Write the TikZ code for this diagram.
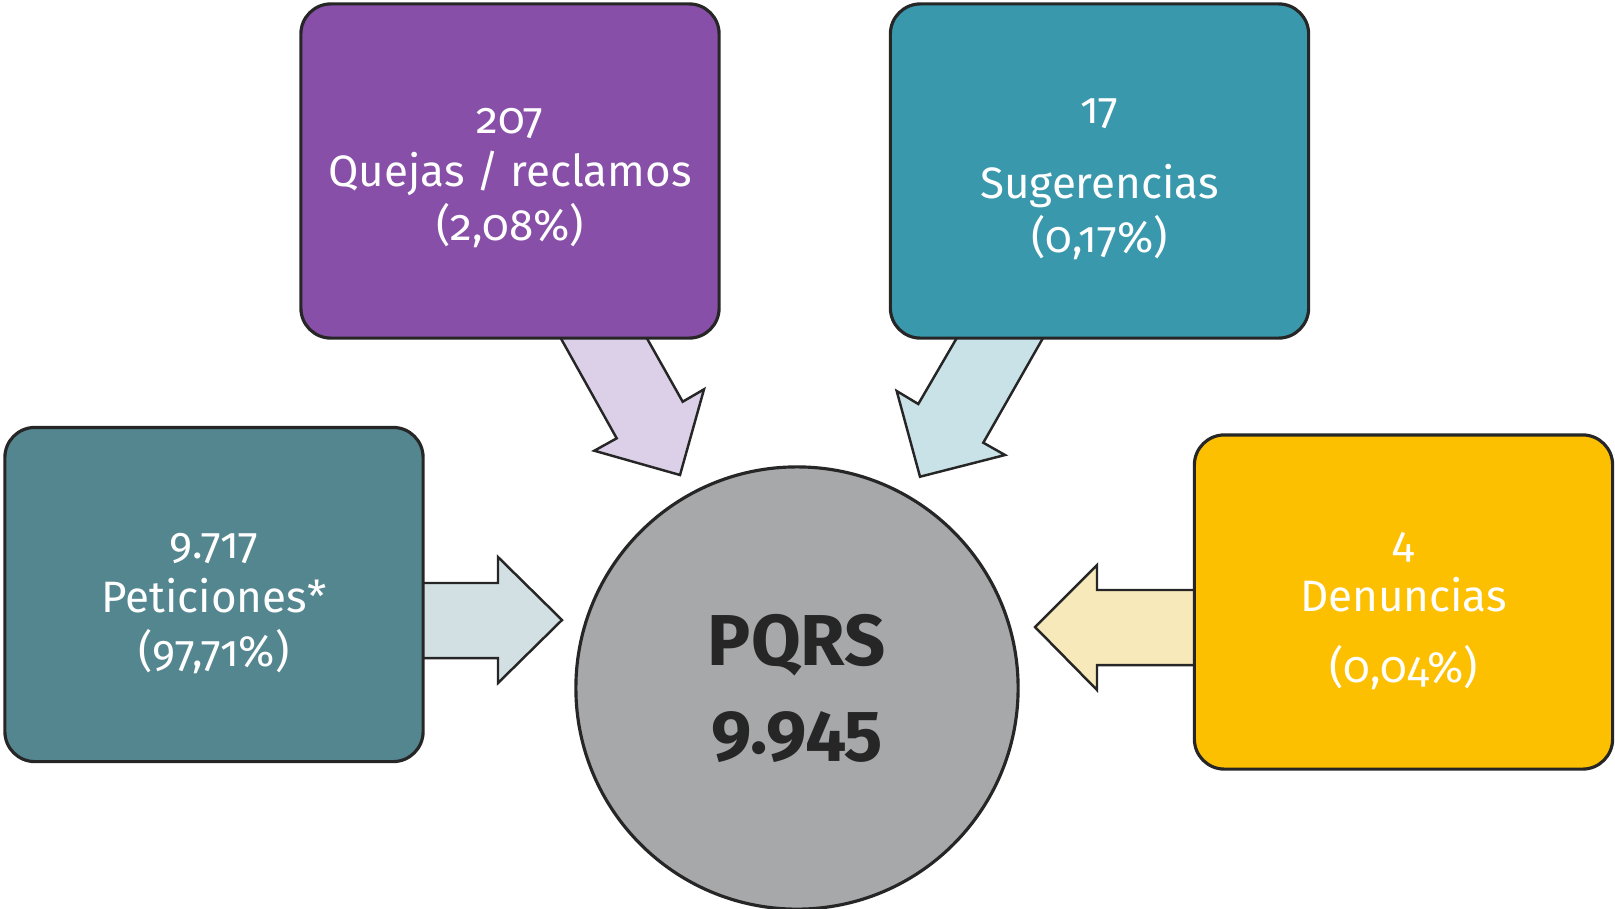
\documentclass[tikz,border=0pt]{standalone}
\usepackage{fontspec}
\setmainfont{Fira Sans}[Numbers=OldStyle]
\usepackage{xcolor}
\usetikzlibrary{positioning}

\definecolor{lineDark}{HTML}{262626}
\definecolor{quejaFill}{HTML}{874FA7}
\definecolor{sugerFill}{HTML}{3A98AD}
\definecolor{peticFill}{HTML}{548690}
\definecolor{denunFill}{HTML}{FDC000}
\definecolor{pqrsFill}{HTML}{A7A8AA}
\definecolor{quejaArrow}{HTML}{DCD0E8}
\definecolor{sugerArrow}{HTML}{C8E2E7}
\definecolor{peticArrow}{HTML}{D2E0E4}
\definecolor{denunArrow}{HTML}{F8E9BA}

\begin{document}
\begin{tikzpicture}[x=0.01cm, y=-0.01cm,
  box/.style={draw=lineDark, line width=0.9pt, rounded corners=0.3cm,
    minimum width=4.18cm, minimum height=3.34cm, inner sep=0pt},
  boxtext/.style={align=center, text=white, inner sep=0pt,
    font=\fontsize{12.5}{15.3}\selectfont},
  blockarrow/.style={draw=lineDark, line width=0.7pt, line join=miter}]
\useasboundingbox (0,0) rectangle (1615,908);

% Block arrows (behind the boxes)
\draw[blockarrow, fill=quejaArrow] (549.5,318) -- (635.5,318) -- (682.7,401.7) -- (704,389.3)
  -- (680,475) -- (594.3,450.7) -- (616.7,438.3) -- cycle;
\draw[blockarrow, fill=sugerArrow] (968.4,318) -- (918.3,404) -- (896.7,391) -- (920,476.7)
  -- (1005,455) -- (983.3,442.7) -- (1054.4,318) -- cycle;
\draw[blockarrow, fill=peticArrow] (400,583) -- (498,583) -- (498,557) -- (562,620)
  -- (498,683) -- (498,658) -- (400,658) -- cycle;
\draw[blockarrow, fill=denunArrow] (1220,590) -- (1097,590) -- (1097,565) -- (1035,627)
  -- (1097,690) -- (1097,665) -- (1220,665) -- cycle;

% Boxes
\node[box, fill=quejaFill] (quejas) at (510,171) {};
\node[box, fill=sugerFill] (sugerencias) at (1099.5,171) {};
\node[box, fill=peticFill] (peticiones) at (214,594.5) {};
\node[box, fill=denunFill] (denuncias) at (1403.5,602) {};

\node[boxtext] (quejasText) at ([yshift=-0.07cm]quejas.center) {207\\Quejas / reclamos\\(2,08\%)};
\node[boxtext] (sugerenciasText) at ([yshift=-0.08cm]sugerencias.center) {17\\[6pt]Sugerencias\\(0,17\%)};
\node[boxtext] (peticionesText) at ([yshift=-0.09cm]peticiones.center) {9.717\\Peticiones*\\(97,71\%)};
\node[boxtext] (denunciasText) at ([yshift=-0.09cm]denuncias.center) {4\\Denuncias\\[5pt](0,04\%)};

% Centre
\node[circle, draw=lineDark, line width=0.9pt, fill=pqrsFill, minimum size=4.42cm,
  inner sep=0pt, align=center, text=lineDark,
  font=\fontsize{20.5}{25}\selectfont\bfseries] (pqrs) at (797,688) {PQRS\\9.945};

\end{tikzpicture}
\end{document}
